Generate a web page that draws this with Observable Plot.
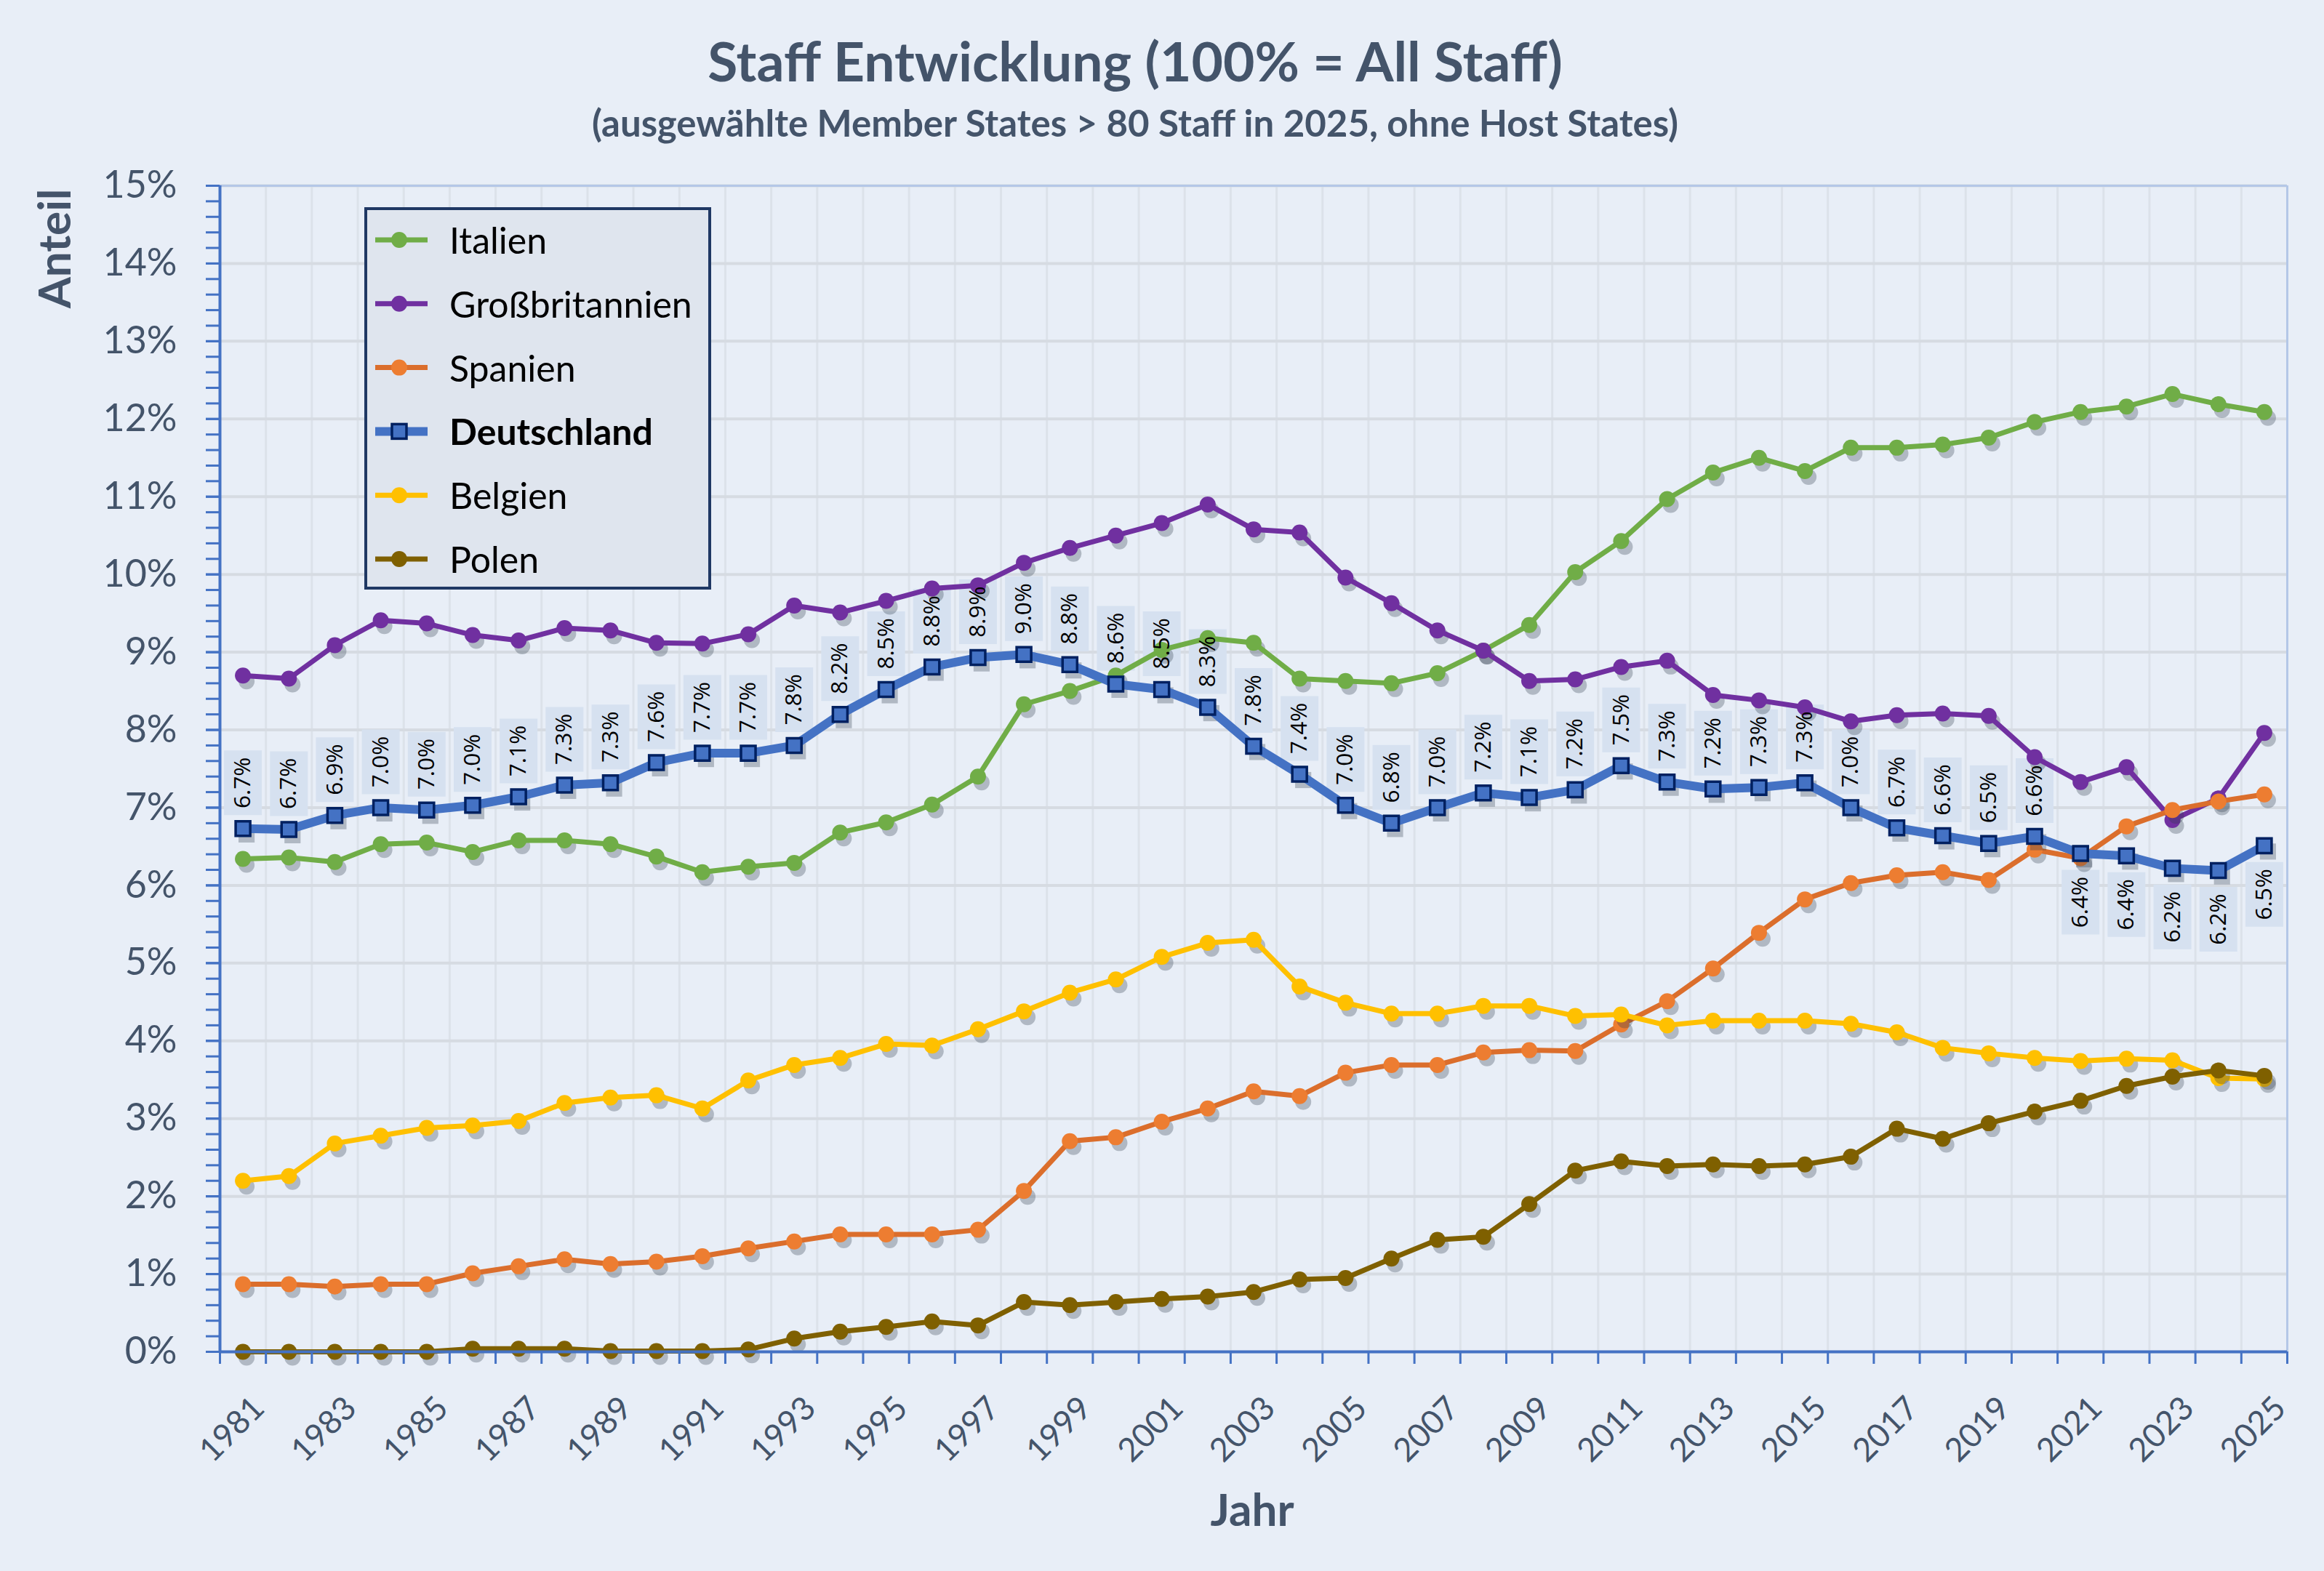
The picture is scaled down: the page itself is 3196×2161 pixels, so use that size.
<!DOCTYPE html>
<html>
<head>
<meta charset="utf-8">
<script src="https://cdn.jsdelivr.net/npm/d3@7"></script>
<script src="https://cdn.jsdelivr.net/npm/@observablehq/plot@0.6"></script>
<style>
  html, body { margin: 0; padding: 0; background: #E8EEF7; }
  #wrap { position: relative; width: 3196px; height: 2161px; overflow: hidden; background: #E8EEF7; }
  .ttl { position: absolute; left: 1561px; transform: translateX(-50%); white-space: nowrap;
         font-family: Lato, "Open Sans", sans-serif; font-weight: 700; color: #44546A; line-height: 1; }
  #title { top: 46px; font-size: 75px; }
  #subtitle { top: 143px; font-size: 51px; }
  #chart { position: absolute; left: 0; top: 215px; }
</style>
</head>
<body>
<div id="wrap">
  <div id="title" class="ttl">Staff Entwicklung (100% = All Staff)</div>
  <div id="subtitle" class="ttl">(ausgewählte Member States &gt; 80 Staff in 2025, ohne Host States)</div>
  <div id="chart"></div>
</div>
<script>
// ---------- data ----------
const years = [1981,1982,1983,1984,1985,1986,1987,1988,1989,1990,
               1991,1992,1993,1994,1995,1996,1997,1998,1999,2000,
               2001,2002,2003,2004,2005,2006,2007,2008,2009,2010,
               2011,2012,2013,2014,2015,2016,2017,2018,2019,2020,
               2021,2022,2023,2024,2025];

const italien = [6.34,6.36,6.30,6.53,6.55,6.43,6.58,6.58,6.53,6.37,
                 6.17,6.24,6.29,6.68,6.81,7.04,7.40,8.33,8.50,8.70,
                 9.03,9.18,9.12,8.66,8.63,8.60,8.73,9.02,9.35,10.03,
                 10.43,10.97,11.31,11.50,11.33,11.63,11.63,11.67,11.76,11.96,
                 12.09,12.16,12.32,12.19,12.09];

const grossbritannien = [8.70,8.66,9.09,9.41,9.37,9.22,9.15,9.31,9.28,9.12,
                         9.11,9.23,9.60,9.51,9.66,9.82,9.86,10.15,10.34,10.50,
                         10.66,10.90,10.58,10.54,9.96,9.63,9.28,9.02,8.63,8.65,
                         8.81,8.89,8.45,8.38,8.29,8.11,8.19,8.21,8.18,7.65,
                         7.33,7.52,6.84,7.12,7.96];

const spanien = [0.87,0.87,0.84,0.87,0.87,1.01,1.10,1.19,1.13,1.16,
                 1.23,1.33,1.42,1.51,1.51,1.51,1.57,2.07,2.71,2.76,
                 2.96,3.13,3.35,3.29,3.59,3.69,3.69,3.85,3.88,3.87,
                 4.21,4.51,4.93,5.39,5.82,6.03,6.13,6.17,6.07,6.46,
                 6.35,6.76,6.97,7.08,7.17];

const deutschland = [6.73,6.72,6.90,7.00,6.97,7.03,7.14,7.29,7.32,7.58,
                     7.70,7.70,7.80,8.20,8.52,8.81,8.93,8.97,8.84,8.59,
                     8.52,8.29,7.79,7.43,7.03,6.80,7.00,7.19,7.13,7.23,
                     7.54,7.33,7.24,7.26,7.32,7.00,6.74,6.64,6.54,6.63,
                     6.41,6.38,6.22,6.19,6.51];

const belgien = [2.20,2.26,2.68,2.78,2.88,2.91,2.97,3.20,3.27,3.30,
                 3.13,3.49,3.69,3.78,3.96,3.94,4.15,4.38,4.62,4.79,
                 5.08,5.26,5.30,4.70,4.49,4.35,4.35,4.45,4.45,4.32,
                 4.34,4.20,4.26,4.26,4.26,4.22,4.11,3.91,3.84,3.78,
                 3.74,3.77,3.75,3.52,3.51];

const polen = [0.00,0.00,0.00,0.00,0.00,0.04,0.04,0.04,0.01,0.01,
               0.01,0.03,0.17,0.26,0.32,0.39,0.34,0.64,0.60,0.64,
               0.68,0.71,0.77,0.93,0.95,1.20,1.44,1.48,1.90,2.33,
               2.45,2.39,2.41,2.39,2.41,2.51,2.87,2.74,2.94,3.09,
               3.23,3.42,3.54,3.62,3.55];

const xTickLabels = [1981,1983,1985,1987,1989,1991,1993,1995,1997,1999,2001,2003,
                     2005,2007,2009,2011,2013,2015,2017,2019,2021,2023,2025];
const yTickValues = [0,1,2,3,4,5,6,7,8,9,10,11,12,13,14,15];
const labelsBelowYears = [2021,2022,2023,2024,2025];

const seriesNames = ["Italien","Großbritannien","Spanien","Deutschland","Belgien","Polen"];
const seriesValues = [italien, grossbritannien, spanien, deutschland, belgien, polen];
const seriesColors = ["#70AD47","#7030A0","#ED7D31","#4472C4","#FFC000","#7F6000"];
const lineColors   = ["#70AD47","#7030A0","#DB6E2C","#4472C4","#FFC000","#7F6000"];

// ---------- layout ----------
const W = 3196, H = 1946;
const toRows = vals => years.map((year, i) => ({year, value: vals[i]}));
const deRows = toRows(deutschland);
const below = new Set(labelsBelowYears);
const fmt = d => d3.format(".1f")(d.value) + "%";
const boundaries = [years[0] - 0.5, ...years.map(y => y + 0.5)];
const minorTicks = d3.range(0, 15.001, 0.2).map(v => +v.toFixed(1));
const DY_ABOVE = -63, DY_BELOW = 67;

const labelBox = { draw(ctx) { ctx.moveTo(-26, -44.5); ctx.lineTo(26, -44.5); ctx.lineTo(26, 44.5); ctx.lineTo(-26, 44.5); ctx.closePath(); } };

const marks = [
  Plot.gridX(boundaries, {stroke: "#DCE2EA", strokeOpacity: 1, strokeWidth: 3}),
  Plot.gridY(yTickValues, {stroke: "#D6DBE2", strokeOpacity: 1, strokeWidth: 4}),
  Plot.ruleY([15], {stroke: "#B4C7E7", strokeWidth: 3}),
  Plot.ruleX([boundaries[boundaries.length - 1]], {stroke: "#B4C7E7", strokeWidth: 3}),
  // label boxes for Deutschland
  Plot.dot(deRows, {filter: d => !below.has(d.year), x: "year", y: "value", symbol: labelBox, r: 10, dy: DY_ABOVE, fill: "#D6E1F0", stroke: "none"}),
  Plot.dot(deRows, {filter: d => below.has(d.year), x: "year", y: "value", symbol: labelBox, r: 10, dy: DY_BELOW, fill: "#D6E1F0", stroke: "none"})
];

seriesNames.forEach((name, i) => {
  const rows = toRows(seriesValues[i]);
  const isDE = name === "Deutschland";
  const lw = isDE ? 12 : 7;
  // soft shadow copies
  marks.push(Plot.line(rows, {x: "year", y: "value", dx: 5, dy: 8, stroke: "#2F3B4C", strokeOpacity: 0.3,
                               strokeWidth: lw + 2, ariaLabel: "shadow"}));
  marks.push(Plot.dot(rows, {x: "year", y: "value", dx: 5, dy: 8, symbol: isDE ? "square" : "circle",
                              r: isDE ? 12.5 : 11, fill: "#2F3B4C", fillOpacity: 0.3, stroke: "none", ariaLabel: "shadow"}));
  // series
  marks.push(Plot.line(rows, {x: "year", y: "value", stroke: lineColors[i], strokeWidth: lw}));
  if (isDE) {
    marks.push(Plot.dot(rows, {x: "year", y: "value", symbol: "square", r: 11.3, fill: seriesColors[i],
                               stroke: "#002060", strokeWidth: 3.5}));
  } else {
    marks.push(Plot.dot(rows, {x: "year", y: "value", r: 11, fill: seriesColors[i], stroke: "none"}));
  }
});

marks.push(
  Plot.text(deRows, {filter: d => !below.has(d.year), x: "year", y: "value", text: fmt, rotate: -90, dy: DY_ABOVE,
                     fontSize: 31.5, fontFamily: "'Open Sans', sans-serif", fill: "#000", textAnchor: "middle", lineAnchor: "middle"}),
  Plot.text(deRows, {filter: d => below.has(d.year), x: "year", y: "value", text: fmt, rotate: -90, dy: DY_BELOW,
                     fontSize: 31.5, fontFamily: "'Open Sans', sans-serif", fill: "#000", textAnchor: "middle", lineAnchor: "middle"}),
  // axes
  Plot.axisY(minorTicks, {tickSize: 19, tickFormat: () => "", stroke: "#4472C4", strokeWidth: 3, label: null}),
  Plot.axisY(yTickValues, {tickSize: 19, tickPadding: 40, tickFormat: d => d + "%", fontSize: 52,
                           fill: "#44546A", stroke: "#4472C4", strokeWidth: 3, label: null}),
  Plot.axisX(boundaries, {tickSize: 17, tickFormat: () => "", stroke: "#4472C4", strokeWidth: 3, label: null}),
  Plot.axisX(xTickLabels, {tickSize: 0, tickPadding: 70, tickRotate: -45, dx: 22, tickFormat: d => String(d),
                           fontSize: 45, fill: "#44546A", label: null}),
  Plot.ruleX([boundaries[0]], {stroke: "#4472C4", strokeWidth: 4}),
  Plot.ruleY([0], {stroke: "#4472C4", strokeWidth: 4})
);

const svg = Plot.plot({
  width: W, height: H,
  marginLeft: 302, marginRight: 51, marginTop: 40, marginBottom: 302,
  x: {domain: [boundaries[0], boundaries[boundaries.length - 1]], axis: null},
  y: {domain: [0, 15], axis: null},
  style: {background: "transparent", fontFamily: "Lato, 'Open Sans', sans-serif", overflow: "visible", maxWidth: "none"},
  marks
});

// ---------- blur for the shadow copies ----------
const s = d3.select(svg);
const defs = s.insert("defs", ":first-child");
defs.append("filter").attr("id", "blur").attr("x", "-10%").attr("y", "-60%").attr("width", "120%").attr("height", "220%")
  .append("feGaussianBlur").attr("stdDeviation", 4);
s.selectAll('g[aria-label="shadow"]').attr("filter", "url(#blur)");

// ---------- axis titles ----------
s.append("text").text("Anteil").attr("transform", "translate(73,127) rotate(-90)")
  .attr("text-anchor", "middle").attr("dominant-baseline", "central")
  .attr("font-family", "Lato, sans-serif").attr("font-weight", 700).attr("font-size", 62).attr("fill", "#44546A");
s.append("text").text("Jahr").attr("x", 1722).attr("y", 1860)
  .attr("text-anchor", "middle").attr("dominant-baseline", "central")
  .attr("font-family", "Lato, sans-serif").attr("font-weight", 700).attr("font-size", 62).attr("fill", "#44546A");

// ---------- legend ----------
const lg = s.append("g").attr("class", "legend").attr("text-anchor", "start");
lg.append("rect").attr("x", 503).attr("y", 72).attr("width", 473).attr("height", 522)
  .attr("fill", "#DFE5EE").attr("stroke", "#1F3864").attr("stroke-width", 4);
seriesNames.forEach((name, i) => {
  const cy = 115 + i * 87.8;
  const isDE = name === "Deutschland";
  lg.append("line").attr("x1", 516).attr("x2", 588).attr("y1", cy).attr("y2", cy)
    .attr("stroke", lineColors[i]).attr("stroke-width", isDE ? 12 : 7);
  if (isDE) {
    lg.append("rect").attr("x", 549 - 10).attr("y", cy - 10).attr("width", 20).attr("height", 20)
      .attr("fill", seriesColors[i]).attr("stroke", "#002060").attr("stroke-width", 3.5);
  } else {
    lg.append("circle").attr("cx", 549).attr("cy", cy).attr("r", 11).attr("fill", seriesColors[i]);
  }
  lg.append("text").text(name).attr("x", 618).attr("y", cy).attr("dominant-baseline", "central")
    .attr("text-anchor", "start")
    .attr("font-family", "Lato, sans-serif").attr("font-size", 50).attr("font-weight", isDE ? 700 : 400)
    .attr("fill", "#000");
});

document.getElementById("chart").appendChild(svg);
</script>
</body>
</html>
